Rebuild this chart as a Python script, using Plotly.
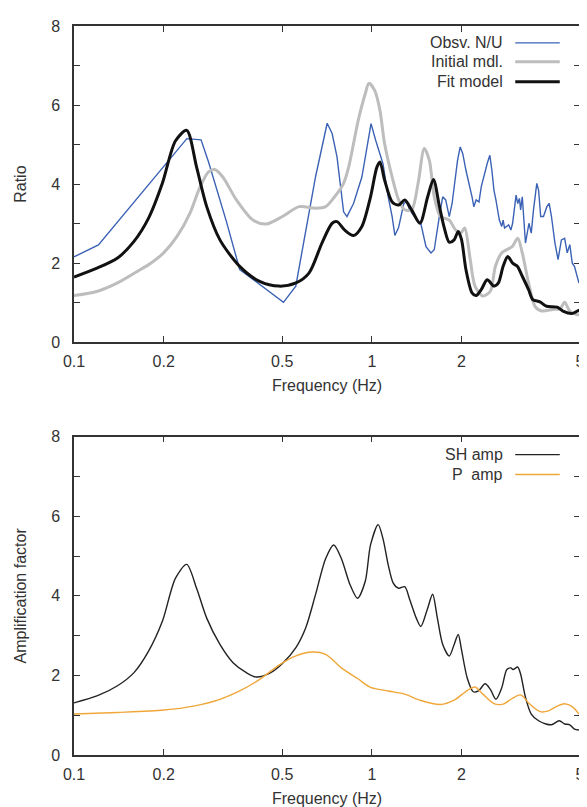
import plotly.graph_objects as go

# ---------------- data ----------------
obs_f = [0.1, 0.1208, 0.2393, 0.267, 0.283, 0.325, 0.360, 0.4416, 0.505, 0.5555,
         0.647, 0.708, 0.7357, 0.764, 0.804, 0.825, 0.868, 0.926, 0.962, 0.994,
         1.03, 1.065, 1.09, 1.135, 1.17, 1.195, 1.23, 1.28, 1.31, 1.34,
         1.39, 1.46, 1.52, 1.58, 1.62, 1.685, 1.73, 1.77, 1.82, 1.86,
         1.94, 1.98, 2.02, 2.07, 2.11, 2.17, 2.2, 2.24, 2.29, 2.33,
         2.44, 2.49, 2.53, 2.57, 2.61, 2.68, 2.73, 2.76, 2.79, 2.88,
         2.93, 2.97, 3.05, 3.09, 3.13, 3.16, 3.2, 3.24, 3.28, 3.37,
         3.43, 3.49, 3.58, 3.63, 3.69, 3.77, 3.87, 3.94, 4.01, 4.12,
         4.22, 4.33, 4.44, 4.53, 4.62, 4.71, 4.79, 4.96]
obs_v = [2.16, 2.46, 5.15, 5.12, 4.56, 3.05, 1.84, 1.33, 1.01, 1.42,
         4.18, 5.54, 5.28, 4.69, 3.30, 3.18, 3.51, 4.18, 4.86, 5.53,
         5.11, 4.77, 4.52, 3.68, 3.18, 2.70, 2.90, 3.51, 3.55, 3.35,
         3.18, 3.01, 2.42, 2.26, 2.34, 3.18, 3.68, 3.60, 3.18, 3.51,
         4.60, 4.94, 4.77, 4.35, 4.10, 3.68, 3.43, 3.60, 3.55, 3.93,
         4.52, 4.73, 4.35, 3.85, 3.60, 3.09, 2.93, 3.09, 2.89, 2.97,
         2.84, 3.01, 3.72, 3.51, 3.64, 3.35, 3.68, 3.09, 2.51, 3.01,
         2.76, 3.35, 4.02, 3.85, 3.18, 3.18, 3.43, 3.51, 3.18, 2.51,
         2.09, 2.59, 2.63, 2.26, 2.47, 2.00, 1.92, 1.50]

init_f = [0.1, 0.12, 0.14, 0.163, 0.181, 0.2, 0.2215, 0.245, 0.265, 0.283,
          0.297, 0.316, 0.351, 0.399, 0.442, 0.501, 0.57, 0.647, 0.70, 0.75,
          0.804, 0.836, 0.90, 0.95, 0.978, 1.024, 1.065, 1.104, 1.17, 1.23,
          1.29, 1.36, 1.43, 1.50, 1.56, 1.62, 1.70, 1.82, 1.91, 1.99,
          2.05, 2.14, 2.22, 2.36, 2.50, 2.6, 2.73, 2.96, 3.09, 3.2,
          3.36, 3.53, 3.72, 4.05, 4.29, 4.44, 4.62, 4.86, 5.0]
init_v = [1.18, 1.29, 1.50, 1.79, 2.0, 2.26, 2.67, 3.26, 3.93, 4.31,
          4.37, 4.18, 3.60, 3.09, 2.99, 3.18, 3.43, 3.39, 3.43, 3.68,
          4.02, 4.43, 5.61, 6.28, 6.55, 6.36, 5.86, 5.02, 4.18, 3.60,
          3.35, 3.35, 4.02, 4.90, 4.60, 3.68, 3.18, 3.09, 2.84, 2.77,
          2.89, 2.09, 1.42, 1.17, 1.29, 1.92, 2.26, 2.42, 2.63, 2.26,
          1.50, 0.91, 0.79, 0.83, 0.85, 1.01, 0.79, 0.70, 0.70]

fit_f = [0.1, 0.12, 0.14, 0.159, 0.178, 0.198, 0.219, 0.239, 0.258, 0.279,
         0.309, 0.36, 0.42, 0.488, 0.556, 0.615, 0.68, 0.736, 0.764, 0.81,
         0.868, 0.926, 0.99, 1.04, 1.065, 1.104, 1.17, 1.23, 1.29, 1.36,
         1.45, 1.54, 1.61, 1.685, 1.75, 1.82, 1.89, 1.95, 2.0, 2.07,
         2.17, 2.24, 2.33, 2.44, 2.57, 2.66, 2.76, 2.86, 2.97, 3.08,
         3.2, 3.36, 3.47, 3.67, 3.86, 4.19, 4.38, 4.72, 4.9, 5.0]
fit_v = [1.65, 1.88, 2.13, 2.55, 3.14, 4.02, 5.09, 5.36, 4.43, 3.43,
         2.59, 1.92, 1.54, 1.42, 1.50, 1.75, 2.51, 3.01, 3.05, 2.84,
         2.70, 2.93, 3.68, 4.43, 4.56, 4.10, 3.55, 3.47, 3.60, 3.35,
         3.01, 3.68, 4.12, 3.45, 2.90, 2.53, 2.59, 2.80, 2.60, 1.84,
         1.25, 1.18, 1.33, 1.58, 1.42, 1.50, 1.92, 2.17, 2.0, 1.92,
         1.67, 1.33, 1.08, 1.02, 0.91, 0.89, 0.79, 0.73, 0.79, 0.82]

sh_f = [0.1, 0.12, 0.14, 0.159, 0.178, 0.198, 0.219, 0.239, 0.258, 0.279,
        0.309, 0.342, 0.379, 0.409, 0.453, 0.501, 0.556, 0.6, 0.647, 0.70,
        0.745, 0.79, 0.845, 0.895, 0.95, 0.99, 1.05, 1.09, 1.135, 1.18,
        1.23, 1.29, 1.34, 1.41, 1.46, 1.54, 1.6, 1.66, 1.73, 1.82,
        1.89, 1.95, 2.0, 2.09, 2.19, 2.28, 2.4, 2.5, 2.61, 2.73,
        2.84, 2.93, 2.98, 3.09, 3.16, 3.28, 3.43, 3.63, 3.84, 4.01,
        4.26, 4.44, 4.62, 4.79, 4.96]
sh_v = [1.31, 1.49, 1.74, 2.07, 2.61, 3.36, 4.44, 4.79, 4.19, 3.44,
        2.78, 2.32, 2.07, 1.96, 2.05, 2.30, 2.70, 3.20, 4.03, 4.94,
        5.28, 4.94, 4.28, 3.94, 4.36, 5.28, 5.79, 5.44, 4.78, 4.32,
        4.19, 4.23, 3.91, 3.44, 3.23, 3.69, 4.04, 3.44, 2.78, 2.49,
        2.78, 3.03, 2.65, 1.94, 1.59, 1.61, 1.79, 1.65, 1.40, 1.69,
        2.15, 2.19, 2.15, 2.21, 2.03, 1.45, 1.03, 0.86, 0.78, 0.76,
        0.86, 0.78, 0.76, 0.65, 0.63]

p_f = [0.1, 0.14, 0.2, 0.252, 0.309, 0.36, 0.42, 0.488, 0.556, 0.63,
       0.70, 0.79, 0.9, 0.99, 1.135, 1.29, 1.46, 1.70, 1.89, 2.09,
       2.22, 2.36, 2.57, 2.76, 2.97, 3.16, 3.39, 3.67, 3.92, 4.19,
       4.44, 4.72, 4.96]
p_v = [1.03, 1.07, 1.13, 1.23, 1.40, 1.61, 1.90, 2.26, 2.49, 2.59,
       2.53, 2.19, 1.91, 1.70, 1.61, 1.53, 1.37, 1.27, 1.38, 1.62,
       1.71, 1.53, 1.29, 1.28, 1.43, 1.51, 1.28, 1.09, 1.11, 1.23,
       1.29, 1.21, 1.03]

x_ticks = [0.1, 0.2, 0.5, 1, 2, 5]
x_tick_labels = ["0.1", "0.2", "0.5", "1", "2", "5"]
y_ticks = [0, 1, 2, 3, 4, 5, 6, 7, 8]
y_tick_labels = ["0", "", "2", "", "4", "", "6", "", "8"]

top_legend = ["Obsv. N/U", "Initial mdl.", "Fit model"]
bottom_legend = ["SH amp", "P  amp"]

# ---------------- style ----------------
C_OBS = "#3b62b5"
C_INIT = "#bdbdbd"
C_FIT = "#111111"
C_SH = "#222222"
C_P = "#f0a73a"
AX = "#333333"
FONT = "Liberation Sans, Arial, sans-serif"
FS = 16

fig = go.Figure()
fig.add_trace(go.Scatter(x=obs_f, y=obs_v, mode="lines", line=dict(color=C_OBS, width=1.4),
                         xaxis="x", yaxis="y", showlegend=False))
fig.add_trace(go.Scatter(x=init_f, y=init_v, mode="lines", line=dict(color=C_INIT, width=3, shape="spline", smoothing=0.8),
                         xaxis="x", yaxis="y", showlegend=False))
fig.add_trace(go.Scatter(x=fit_f, y=fit_v, mode="lines", line=dict(color=C_FIT, width=3, shape="spline", smoothing=0.8),
                         xaxis="x", yaxis="y", showlegend=False))
fig.add_trace(go.Scatter(x=sh_f, y=sh_v, mode="lines", line=dict(color=C_SH, width=1.4, shape="spline", smoothing=0.8),
                         xaxis="x2", yaxis="y2", showlegend=False))
fig.add_trace(go.Scatter(x=p_f, y=p_v, mode="lines", line=dict(color=C_P, width=1.4, shape="spline", smoothing=0.8),
                         xaxis="x2", yaxis="y2", showlegend=False))

xcommon = dict(type="log", range=[-1, 0.69897], tickvals=x_ticks, ticktext=x_tick_labels,
               ticks="inside", ticklen=6, tickcolor=AX, tickwidth=1.2,
               showline=True, linecolor=AX, linewidth=1.5, mirror="ticks",
               showgrid=False, zeroline=False, ticklabelstandoff=4,
               tickfont=dict(size=FS, color=AX, family=FONT),
               title=dict(text="Frequency (Hz)", font=dict(size=FS, color=AX, family=FONT), standoff=11))
ycommon = dict(range=[0, 8], tickvals=y_ticks, ticktext=y_tick_labels,
               ticks="inside", ticklen=6, tickcolor=AX, tickwidth=1.2,
               showline=True, linecolor=AX, linewidth=1.5, mirror="ticks",
               showgrid=False, zeroline=False, ticklabelstandoff=9,
               tickfont=dict(size=FS, color=AX, family=FONT))

fig.update_layout(
    width=587, height=807,
    margin=dict(l=66, r=10, t=15, b=59),
    paper_bgcolor="white", plot_bgcolor="white",
    font=dict(family=FONT, color=AX, size=FS),
    xaxis=dict(**xcommon, domain=[0, 1], anchor="y"),
    yaxis=dict(**ycommon, domain=[0.5662, 1.0], anchor="x",
               title=dict(text="Ratio", font=dict(size=FS, color=AX, family=FONT), standoff=21)),
    xaxis2=dict(**xcommon, domain=[0, 1], anchor="y2"),
    yaxis2=dict(**ycommon, domain=[0, 0.4366], anchor="x2",
                title=dict(text="Amplification factor", font=dict(size=FS, color=AX, family=FONT), standoff=21)),
)

# legend (right-aligned text with line sample to the right, gnuplot style)
def add_legend(labels, colors, widths, ys):
    for lab, col, w, yy in zip(labels, colors, widths, ys):
        fig.add_annotation(xref="paper", yref="paper", x=0.851, y=yy, text=lab, showarrow=False,
                           xanchor="right", yanchor="middle", font=dict(size=FS, color=AX, family=FONT))
        fig.add_shape(type="line", xref="paper", yref="paper", x0=0.872, x1=0.960, y0=yy, y1=yy,
                      line=dict(color=col, width=w))

add_legend(top_legend, [C_OBS, C_INIT, C_FIT], [1.4, 3, 3], [0.9768, 0.9509, 0.9236])
add_legend(bottom_legend, [C_SH, C_P], [1.4, 1.4], [0.412, 0.3847])

fig.write_html("out.html")
